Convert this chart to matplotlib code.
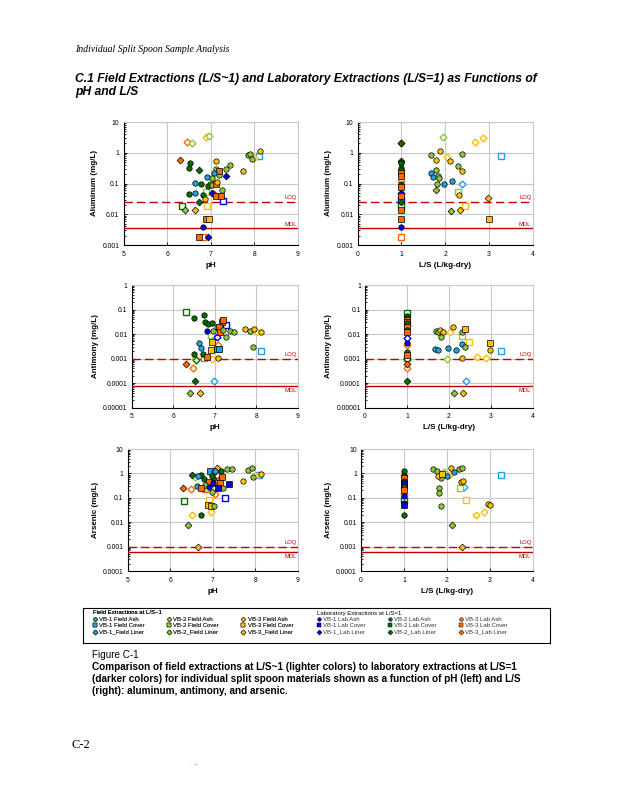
import matplotlib

matplotlib.use("Agg")
import matplotlib.pyplot as plt
import numpy as np
from matplotlib.lines import Line2D
from matplotlib.ticker import FixedLocator, FuncFormatter, LogLocator, NullFormatter

W, H = 618, 800

# series: code -> (label, colour, marker)
SERIES_CODES = ["F1A", "F1C", "F1L", "F2A", "F2C", "F2L", "F3A", "F3C", "F3L",
                "L1A", "L1C", "L1L", "L2A", "L2C", "L2L", "L3A", "L3C", "L3L"]
SERIES_LABELS = ["VB-1 Field Ash", "VB-1 Field Cover", "VB-1_Field Liner",
                 "VB-2 Field Ash", "VB-2 Field Cover", "VB-2_Field Liner",
                 "VB-3 Field Ash", "VB-3 Field Cover", "VB-3_Field Liner",
                 "VB-1 Lab Ash", "VB-1 Lab Cover", "VB-1_Lab Liner",
                 "VB-2 Lab Ash", "VB-2 Lab Cover", "VB-2_Lab Liner",
                 "VB-3 Lab Ash", "VB-3 Lab Cover", "VB-3_Lab Liner"]
SITE_COLORS = {"F1": "#1FA2DE", "F2": "#8DC63F", "F3": "#FFC000",
               "L1": "#0000E6", "L2": "#006E00", "L3": "#FF6A00"}
TYPE_MARKERS = {"A": "o", "C": "s", "L": "D"}

# ---- Aluminum vs pH
AL_PH_X = [6.46, 6.56, 6.90, 6.96, 6.30, 6.52, 6.50, 6.74, 7.11, 7.13, 7.19, 7.20, 7.36, 7.45,
           7.36, 7.73, 7.86, 7.90, 8.12, 8.10, 8.00, 7.95, 6.92, 7.08, 6.64, 6.77, 7.03, 6.98,
           6.94, 7.04, 7.13, 7.15, 6.89, 7.02, 7.07, 7.26, 6.50, 6.64, 6.83, 6.87, 7.13, 7.23,
           7.29, 6.74, 6.33, 6.41, 6.65, 6.92, 6.90, 6.97, 6.83, 6.74, 6.83, 6.94]
AL_PH_Y = [2.3, 2.1, 3.2, 3.4, 0.56, 0.46, 0.33, 0.28, 0.55, 0.29, 0.19, 0.26, 0.29, 0.39,
           0.18, 0.26, 0.85, 0.92, 1.1, 0.80, 0.70, 0.62, 0.16, 0.22, 0.107, 0.10, 0.15, 0.10,
           0.085, 0.09, 0.10, 0.11, 0.052, 0.050, 0.046, 0.06, 0.046, 0.048, 0.042, 0.031, 0.040, 0.038,
           0.026, 0.025, 0.019, 0.014, 0.014, 0.019, 0.0068, 0.0072, 0.0038, 0.0018, 0.0018, 0.0018]
AL_PH_S = ["L3L", "F2L", "F3L", "F2L", "L3L", "L2A", "L2A", "L2L", "F3A", "F2A", "F2A", "L3C", "F2A", "F2A",
           "L1L", "F3A", "F2A", "F2A", "F3A", "F1C", "F3L", "F2A", "F1A", "F1A", "F1A", "L2A", "F2A", "F2A",
           "L2A", "F2A", "L3C", "F3A", "F2C", "L1L", "L3L", "F2A", "L2A", "F1A", "L2A", "F3A", "L3C", "L3C",
           "L1C", "L2L", "L2C", "F2L", "F3L", "F3C", "L3C", "F3C", "L1A", "L3C", "L3C", "L1L"]
AL_PH_OPEN = [1, 1, 1, 1, 0, 0, 0, 0, 0, 0, 0, 0, 0, 0,
              0, 0, 0, 0, 0, 1, 1, 0, 0, 0, 0, 0, 0, 0,
              0, 0, 0, 0, 1, 0, 1, 0, 0, 0, 0, 0, 0, 0,
              1, 0, 1, 0, 0, 1, 0, 0, 0, 0, 1, 0]

# ---- Aluminum vs L/S
AL_LS_X = [1, 1, 1, 1, 1, 1, 1, 1, 1, 1, 1, 1, 1, 1, 1, 1, 1, 1, 1, 1, 1, 1, 1,
           1.67, 1.88, 1.80, 1.94, 2.03, 2.10, 2.38, 2.68, 2.87, 3.27, 2.29, 1.78, 2.38, 1.67, 1.71,
           1.84, 1.85, 1.82, 1.98, 2.16, 2.39, 1.80, 2.30, 2.31, 2.97, 2.45, 2.13, 2.34, 3.01]
AL_LS_Y = [2.1, 2.0, 0.55, 0.50, 0.45, 0.33, 0.28, 0.22, 0.18, 0.12, 0.10, 0.085, 0.075, 0.050,
           0.046, 0.040, 0.030, 0.025, 0.019, 0.014, 0.007, 0.0038, 0.0018,
           0.85, 1.1, 0.60, 3.2, 0.75, 0.55, 0.90, 2.3, 3.0, 0.80, 0.38, 0.28, 0.25, 0.22, 0.16,
           0.18, 0.15, 0.10, 0.10, 0.12, 0.10, 0.06, 0.052, 0.042, 0.034, 0.019, 0.013, 0.014, 0.007]
AL_LS_S = ["L3L", "L2L", "L3L", "L2A", "L2A", "L2A", "L2L", "L3C", "L3C", "L3L", "L2A", "L2A",
           "L3C", "L1L", "L3L", "L3C", "L1C", "L2L", "L2C", "L3C", "L3C", "L1A", "L3C",
           "F2A", "F3A", "F3A", "F2L", "F3L", "F3A", "F2A", "F3L", "F3L", "F1C", "F2A", "F2A", "F3A",
           "F1A", "F1A", "F2A", "F2A", "F2A", "F1A", "F1A", "F1L", "F2L", "F2C", "F3A", "F3L", "F3C",
           "F2L", "F3L", "F3C"]
AL_LS_OPEN = [1, 0, 0, 0, 0, 0, 0, 0, 0, 1, 0, 0, 0, 0, 1, 0, 1, 0, 1, 0, 0, 0, 1,
              0, 0, 0, 1, 1, 0, 0, 1, 1, 1, 0, 0, 0, 0, 0, 0, 0, 0, 0, 0, 1, 0, 1, 0, 0, 1, 0, 0, 0]

# ---- Antimony vs pH
SB_PH_X = [6.30, 6.50, 6.74, 6.76, 6.84, 6.94, 7.04, 7.16, 7.20, 7.10, 7.28, 7.12, 7.20, 6.82,
           6.96, 6.90, 7.04, 7.26, 7.36, 7.46, 7.72, 7.84, 7.94, 8.02, 8.12, 7.92, 8.10, 6.63,
           6.66, 6.92, 7.08, 7.06, 7.10, 6.90, 6.50, 6.72, 6.74, 6.82, 6.52, 6.94, 7.08, 6.54,
           6.30, 6.48, 6.52, 6.98, 6.40, 6.64]
SB_PH_Y = [0.077, 0.047, 0.060, 0.030, 0.026, 0.029, 0.020, 0.032, 0.037, 0.020, 0.023, 0.0125, 0.015, 0.013,
           0.013, 0.009, 0.0074, 0.0074, 0.013, 0.012, 0.016, 0.013, 0.016, 0.012, 0.012, 0.0031, 0.0020, 0.0042,
           0.0026, 0.0046, 0.0036, 0.0024, 0.0024, 0.0022, 0.0015, 0.0015, 0.0011, 0.0012, 0.0011, 0.0010, 0.0011,
           0.00087, 0.00059, 0.0004, 0.000126, 0.000124, 0.000038, 0.000038]
SB_PH_S = ["L2C", "L2A", "L2A", "L2A", "L2A", "L2A", "F2A", "L3C", "L3C", "L3C", "L1C", "L3C", "F2A", "L1A",
           "F2A", "F2C", "L1L", "F2A", "F2A", "F2A", "F3A", "F2A", "F3A", "F3L", "F3A", "F2A", "F1C", "F1A",
           "F1A", "F3C", "L3L", "F1C", "F1C", "F3C", "L2A", "L2A", "L3C", "L3C", "F3L", "F3L", "F3A", "L2L",
           "L3L", "L3L", "L2L", "F1L", "F2L", "F3L"]
SB_PH_OPEN = [1, 0, 0, 0, 0, 0, 0, 0, 0, 0, 1, 0, 0, 0,
              0, 1, 1, 0, 0, 0, 0, 0, 0, 1, 0, 0, 1, 0,
              0, 0, 1, 0, 0, 0, 0, 0, 1, 0, 1, 1, 0, 1,
              0, 1, 0, 1, 0, 0]

# ---- Antimony vs L/S
SB_LS_X = [1, 1, 1, 1, 1, 1, 1, 1, 1, 1, 1, 1, 1, 1, 1, 1, 1, 1, 1, 1,
           1.69, 1.75, 1.80, 1.87, 1.81, 2.03, 2.11, 2.31, 2.39, 2.31, 1.67, 1.73, 1.99, 2.16,
           2.31, 2.39, 2.47, 2.98, 2.97, 3.24, 2.32, 1.95, 2.68, 2.89, 2.40, 2.12, 2.33]
SB_LS_Y = [0.075, 0.055, 0.045, 0.038, 0.032, 0.028, 0.024, 0.020, 0.015, 0.012, 0.007, 0.0045,
           0.0035, 0.0018, 0.0014, 0.0011, 0.00095, 0.0006, 0.0004, 0.00012,
           0.013, 0.012, 0.015, 0.012, 0.0077, 0.012, 0.019, 0.012, 0.016, 0.0086, 0.0025, 0.0023,
           0.0028, 0.0023, 0.0038, 0.0030, 0.0046, 0.0045, 0.0023, 0.0020, 0.0011, 0.0010, 0.0012,
           0.0011, 0.000124, 0.000038, 0.000038]
SB_LS_S = ["L2C", "L2A", "L2A", "L3C", "L3C", "L2A", "L3L", "L3C", "L2A", "L3C", "L1L", "L1A",
           "L3L", "L2A", "L3C", "L3C", "L2L", "L3L", "L3L", "L2L",
           "F2A", "F2A", "F3A", "F3A", "F2A", "F3L", "F3A", "F2A", "F3C", "F2C", "F1A", "F1A",
           "F1A", "F1A", "F1A", "F2A", "F3C", "F3C", "F3A", "F1C", "F3A", "F2L", "F3L", "F3L",
           "F1L", "F2L", "F3L"]
SB_LS_OPEN = [1, 0, 0, 0, 0, 0, 1, 0, 0, 0, 1, 0, 1, 0, 0, 1, 1, 0, 1, 0,
              0, 0, 0, 0, 0, 1, 0, 0, 0, 1, 0, 0, 0, 0, 0, 0, 1, 0, 0, 1, 0, 1, 1, 1, 1, 0, 0]

# ---- Arsenic vs pH
AS_PH_X = [7.34, 7.46, 7.83, 7.92, 8.12, 8.08, 8.00, 7.95, 7.70, 7.10, 7.20, 6.93, 6.97, 7.02,
           7.06, 7.09, 6.97, 6.50, 6.73, 6.58, 6.64, 7.20, 7.22, 6.79, 6.91, 7.02, 7.06, 7.00,
           7.16, 7.38, 6.81, 6.63, 6.29, 6.48, 6.73, 6.81, 6.89, 6.91, 7.24, 7.12, 6.97, 7.06,
           7.28, 6.32, 6.91, 6.88, 6.96, 7.02, 6.95, 6.52, 6.73, 6.41, 6.64]
AS_PH_Y = [1.45, 1.55, 1.4, 1.6, 0.95, 0.9, 0.8, 0.7, 0.49, 1.6, 1.3, 1.3, 1.1, 1.1,
           1.3, 0.9, 0.8, 0.85, 0.9, 0.7, 0.8, 0.63, 0.7, 0.57, 0.46, 0.55, 0.42, 0.42,
           0.42, 0.36, 0.33, 0.30, 0.245, 0.23, 0.245, 0.22, 0.245, 0.28, 0.245, 0.26, 0.17, 0.14,
           0.10, 0.074, 0.08, 0.05, 0.048, 0.046, 0.025, 0.020, 0.020, 0.008, 0.001]
AS_PH_S = ["F2A", "F2A", "F2A", "F2A", "F3A", "F1C", "F3L", "F2A", "F3A", "F3L", "L2A", "F1C", "F2C", "L2A",
           "F1A", "L3L", "L2A", "L2L", "L2A", "F2L", "F1A", "F2A", "L3C", "L2A", "L3C", "L2A", "F3C", "L1A",
           "L3C", "L1C", "F2A", "F1A", "L3L", "L3L", "L3C", "L3C", "F2C", "L1A", "F2A", "L1C", "F2A", "L3L",
           "L1C", "L2C", "F3C", "F3C", "F3C", "F2A", "F3L", "F3L", "L2A", "F2L", "F3L"]
AS_PH_OPEN = [0, 0, 0, 0, 0, 1, 1, 0, 0, 0, 0, 0, 1, 0,
              0, 1, 0, 0, 0, 1, 0, 0, 0, 0, 0, 0, 0, 0,
              0, 0, 0, 0, 0, 1, 0, 1, 1, 0, 0, 0, 0, 1,
              1, 1, 1, 0, 0, 0, 1, 1, 0, 0, 0]

# ---- Arsenic vs L/S
AS_LS_X = [1, 1, 1, 1, 1, 1, 1, 1, 1, 1, 1, 1, 1, 1, 1, 1,
           1.67, 1.76, 1.94, 2.00, 2.06, 1.86, 1.80, 1.88, 2.10, 2.29, 2.36, 2.17, 2.32, 2.37,
           2.39, 2.31, 1.82, 1.82, 3.25, 2.45, 2.97, 3.00, 1.86, 2.67, 2.87, 2.11, 2.35]
AS_LS_Y = [1.3, 0.9, 0.8, 0.62, 0.5, 0.42, 0.36, 0.3, 0.25, 0.2, 0.15, 0.12, 0.08, 0.06, 0.05, 0.02,
           1.5, 1.3, 1.1, 0.8, 0.85, 0.63, 0.8, 0.95, 1.6, 1.5, 1.6, 1.1, 0.46, 0.48,
           0.28, 0.25, 0.245, 0.16, 0.9, 0.08, 0.055, 0.05, 0.046, 0.020, 0.025, 0.008, 0.001]
AS_LS_S = ["L2A", "L3L", "L2A", "L3C", "L2A", "L3C", "L1C", "L2A", "L3L", "L3C", "L3L", "L1A",
           "L2C", "L1A", "L1C", "L2A",
           "F2A", "F2A", "F2L", "F1A", "F3L", "F2A", "F3A", "F3C", "F3A", "F2A", "F2A", "F1A",
           "F3A", "F3A", "F1L", "F2C", "F2A", "F2A", "F1C", "F3C", "F3A", "F3A", "F2A", "F3L",
           "F3L", "F2L", "F3L"]
AS_LS_OPEN = [0, 1, 0, 0, 0, 0, 0, 0, 0, 0, 1, 0, 1, 0, 0, 0,
              0, 0, 1, 0, 1, 0, 0, 0, 0, 0, 0, 0, 0, 0, 1, 1, 0, 0, 1, 1, 0, 0, 0, 1, 1, 0, 0]

AL_LIMITS = (0.025, 0.0035)
SB_LIMITS = (0.001, 0.00008)
AS_LIMITS = (0.001, 0.0006)

RED = "#C00000"
GRID = "#C8C8C8"
SANS = ["Liberation Sans", "DejaVu Sans"]
SERIF = ["Liberation Serif", "DejaVu Serif"]

plt.rcParams["font.family"] = SANS


def _px_rect(left, top, right, bottom):
    return [left / W, 1 - bottom / H, (right - left) / W, (bottom - top) / H]


def _series_style(code):
    return SITE_COLORS[code[:2]], TYPE_MARKERS[code[2]]


def _log_label(v, _pos=None):
    exp = int(round(np.log10(v)))
    return f"{v:.{max(0, -exp)}f}"


def _scatter(ax, xs, ys, codes, opens):
    for x, y, code, is_open in zip(xs, ys, codes, opens):
        color, marker = _series_style(code)
        size = 3.9 if marker != "D" else 3.5
        if is_open:
            ax.plot(x, y, marker=marker, ms=size, mfc="white", mec=color, mew=1.0,
                    ls="none", zorder=4)
        else:
            ax.plot(x, y, marker=marker, ms=size, mfc=color, mec="black", mew=0.5,
                    ls="none", zorder=5)


def _panel(fig, rect, xs, ys, codes, opens, ylim, xlim, xlabel, ylabel, limits, mdl_below):
    ax = fig.add_axes(rect)
    ax.set_yscale("log")
    ax.set_ylim(*ylim)
    ax.set_xlim(*xlim)
    ax.xaxis.set_major_locator(FixedLocator(np.arange(xlim[0], xlim[1] + 1)))
    ax.yaxis.set_major_locator(LogLocator(base=10, numticks=12))
    ax.yaxis.set_minor_locator(LogLocator(base=10, subs=np.arange(2, 10), numticks=12))
    ax.yaxis.set_major_formatter(FuncFormatter(_log_label))
    ax.yaxis.set_minor_formatter(NullFormatter())
    ax.grid(True, which="major", color=GRID, lw=0.8, zorder=0)
    for side in ("top", "right"):
        ax.spines[side].set_color(GRID)
        ax.spines[side].set_linewidth(0.8)
    for side in ("left", "bottom"):
        ax.spines[side].set_linewidth(0.8)
    ax.tick_params(which="both", direction="in", labelsize=4.9, pad=3, width=0.6)
    ax.tick_params(which="major", length=2.5)
    ax.tick_params(which="minor", length=1.5)
    ax.tick_params(axis="x", pad=4)
    ax.set_axisbelow(True)

    loq, mdl = limits
    ax.axhline(loq, color=RED, lw=1.0, ls=(0, (6, 3)), zorder=3)
    ax.axhline(mdl, color=RED, lw=1.0, zorder=3)
    ax.annotate("LOQ", (1, loq), xycoords=("axes fraction", "data"), xytext=(-1, 1.2),
                textcoords="offset points", ha="right", va="bottom", color=RED, fontsize=4.2)
    if mdl_below:
        ax.annotate("MDL", (1, mdl), xycoords=("axes fraction", "data"), xytext=(-1, -1.5),
                    textcoords="offset points", ha="right", va="top", color=RED, fontsize=4.2)
    else:
        ax.annotate("MDL", (1, mdl), xycoords=("axes fraction", "data"), xytext=(-1, 1.2),
                    textcoords="offset points", ha="right", va="bottom", color=RED, fontsize=4.2)

    _scatter(ax, xs, ys, codes, opens)
    ax.set_xlabel(xlabel, fontsize=5.8, fontweight="bold", labelpad=3)
    ax.set_ylabel(ylabel, fontsize=5.8, fontweight="bold", labelpad=3)
    return ax


def _legend(fig):
    frame = fig.add_axes(_px_rect(83, 608, 550, 643))
    frame.set_xticks([])
    frame.set_yticks([])
    for sp in frame.spines.values():
        sp.set_linewidth(0.8)

    handles = []
    for code in SERIES_CODES:
        color, marker = _series_style(code)
        handles.append(Line2D([], [], ls="none", marker=marker, ms=2.6, mfc=color,
                              mec="black", mew=0.35))
    labels = SERIES_LABELS
    common = dict(ncol=3, frameon=False, fontsize=4.3, handlelength=0.6, handletextpad=0.4,
                  columnspacing=3.8, labelspacing=0.2, borderpad=0, borderaxespad=0,
                  loc="upper left", alignment="left", labelcolor="#333333",
                  title_fontproperties={"size": 4.3})
    leg1 = fig.legend(handles[:9], labels[:9], title="Field Extractions at L/S~1",
                      bbox_to_anchor=(93 / W, 1 - 610.5 / H), **common)
    fig.legend(handles[9:], labels[9:], title="Laboratory Extractions at L/S=1",
               bbox_to_anchor=(317 / W, 1 - 610.5 / H), **common)
    fig.add_artist(leg1)


def main():
    fig = plt.figure(figsize=(W / 100, H / 100), dpi=100)

    fig.text(75 / W, 1 - 50 / H, "Individual Split Spoon Sample Analysis", family=SERIF,
             style="italic", fontsize=7.0, va="center")
    fig.text(75 / W, 1 - 79 / H, "C.1 Field Extractions (L/S~1) and Laboratory Extractions (L/S=1) as Functions of",
             fontsize=8.7, fontweight="bold", style="italic", va="center")
    fig.text(75 / W, 1 - 92 / H, "pH and L/S", fontsize=8.7, fontweight="bold", style="italic", va="center")

    ph_lim = (5, 9)
    ls_lim = (0, 4)
    _panel(fig, _px_rect(123.5, 122, 298, 245), AL_PH_X, AL_PH_Y, AL_PH_S, AL_PH_OPEN,
           (0.001, 10), ph_lim, "pH", "Aluminum (mg/L)", AL_LIMITS, False)
    _panel(fig, _px_rect(357.7, 122, 532.7, 245), AL_LS_X, AL_LS_Y, AL_LS_S, AL_LS_OPEN,
           (0.001, 10), ls_lim, "L/S (L/kg-dry)", "Aluminum (mg/L)", AL_LIMITS, False)
    _panel(fig, _px_rect(131.7, 285, 298, 407.7), SB_PH_X, SB_PH_Y, SB_PH_S, SB_PH_OPEN,
           (0.00001, 1), ph_lim, "pH", "Antimony (mg/L)", SB_LIMITS, True)
    _panel(fig, _px_rect(365, 285, 532.7, 407.7), SB_LS_X, SB_LS_Y, SB_LS_S, SB_LS_OPEN,
           (0.00001, 1), ls_lim, "L/S (L/kg-dry)", "Antimony (mg/L)", SB_LIMITS, True)
    _panel(fig, _px_rect(127.7, 449, 298, 571), AS_PH_X, AS_PH_Y, AS_PH_S, AS_PH_OPEN,
           (0.0001, 10), ph_lim, "pH", "Arsenic (mg/L)", AS_LIMITS, True)
    _panel(fig, _px_rect(361, 449, 532.7, 571), AS_LS_X, AS_LS_Y, AS_LS_S, AS_LS_OPEN,
           (0.0001, 10), ls_lim, "L/S (L/kg-dry)", "Arsenic (mg/L)", AS_LIMITS, True)

    _legend(fig)

    fig.text(92 / W, 1 - 655 / H, "Figure C-1", fontsize=7.1, va="center")
    caption = ("Comparison of field extractions at L/S~1 (lighter colors) to laboratory extractions at L/S=1\n"
               "(darker colors) for individual split spoon materials shown as a function of pH (left) and L/S\n"
               "(right): aluminum, antimony, and arsenic.")
    fig.text(92 / W, 1 - 661.5 / H, caption, fontsize=7.2, fontweight="bold", va="top", linespacing=1.25)
    fig.text(72 / W, 1 - 745 / H, "C-2", family=SERIF, fontsize=9, va="center")
    fig.text(190 / W, 1 - 765 / H, "\u2019  \u00b7 \u25aa", fontsize=3, color="#666666", va="center")

    fig.savefig("out.png", dpi=100)
    plt.close(fig)


if __name__ == "__main__":
    main()
